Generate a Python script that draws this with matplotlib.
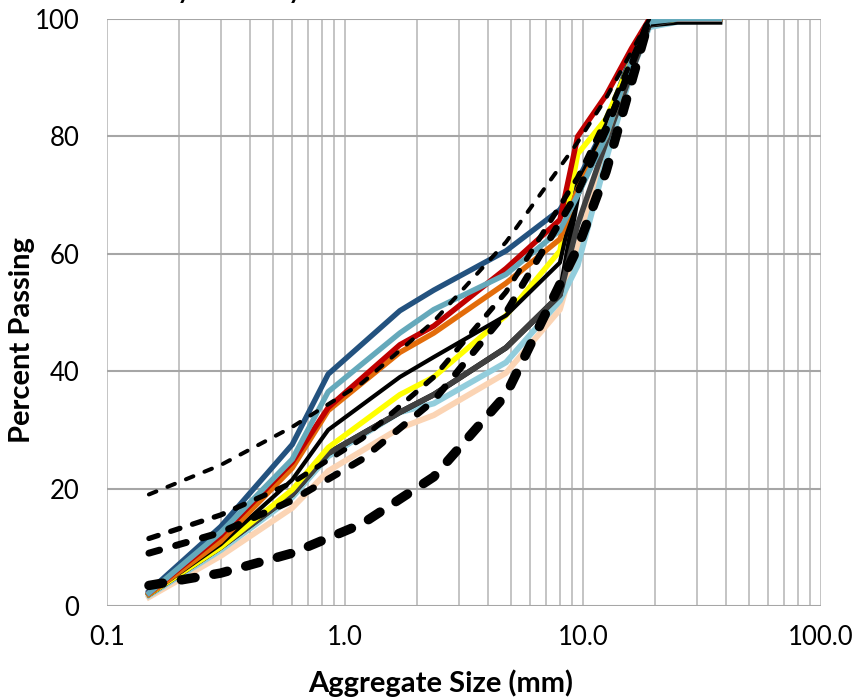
import matplotlib
matplotlib.use("Agg")
from matplotlib import pyplot as plt
from matplotlib.ticker import LogLocator, FixedLocator, FixedFormatter, NullFormatter

plt.rcParams['font.family'] = ['Lato', 'DejaVu Sans']
plt.rcParams['lines.scale_dashes'] = False

# sieve sizes (mm) for the measured gradations
sieves = [0.15, 0.3, 0.6, 0.85, 1.7, 2.36, 4.75, 8.0, 9.5, 12.5, 16.0, 19.0, 25.0, 37.5]

# percent passing, one list per sample
navy = [2.5, 13.5, 27.5, 39.5, 50.3, 53.8, 60.5, 67.5, 72.5, 82.0, 94.0, 99.5, 100, 100]
teal = [2.2, 12.5, 25.0, 36.5, 46.5, 50.5, 56.5, 64.0, 70.0, 80.0, 93.0, 99.5, 100, 100]
red = [2.2, 12.0, 24.5, 33.8, 44.5, 47.7, 57.5, 65.8, 80.0, 87.0, 95.0, 100, 100, 100]
orange = [2.0, 11.0, 23.5, 33.3, 43.2, 46.5, 55.0, 62.5, 71.0, 80.0, 93.0, 100, 100, 100]
black = [2.0, 10.5, 21.5, 30.0, 39.0, 42.4, 49.5, 58.5, 72.0, 82.0, 92.0, 99.0, 100, 100]
yellow = [2.0, 10.0, 19.8, 27.0, 36.0, 39.0, 49.5, 60.5, 77.0, 83.0, 93.0, 99.5, 100, 100]
darkgrey = [2.0, 10.0, 19.0, 26.0, 33.0, 36.0, 44.0, 53.0, 65.0, 79.0, 91.0, 99.0, 100, 100]
black_thick = [2.0, 10.0, 19.0, 26.0, 33.0, 36.0, 44.0, 53.0, 70.0, 81.0, 92.0, 99.0, 99.5, 99.5]
lightblue = [1.8, 9.5, 18.5, 25.5, 33.0, 34.5, 41.5, 52.0, 58.0, 76.0, 91.0, 98.6, 99.5, 99.7]
peach = [1.5, 8.5, 16.7, 23.0, 30.3, 32.5, 39.7, 50.5, 61.0, 78.0, 92.5, 99.0, 100, 100]

# reference / limit curves
ref_sieves = [0.15, 0.3, 0.6, 1.18, 2.36, 4.75, 9.5, 12.5, 19.0]
ref_thin = [19.0, 24.0, 30.5, 38.0, 48.5, 62.0, 79.0, 86.5, 100]
ref_med = [11.5, 15.5, 21.0, 28.5, 39.0, 53.5, 73.0, 83.0, 100]
ref_thick = [9.0, 12.5, 18.0, 25.0, 35.0, 50.0, 70.5, 81.0, 100]
ref_heavy = [3.5, 5.6, 9.0, 14.0, 22.0, 36.0, 61.0, 74.0, 100]

fig = plt.figure(figsize=(8.54, 6.98), dpi=100)
ax = fig.add_axes([0.1253, 0.1318, 0.836, 0.841])

ax.set_xscale('log')
ax.set_xlim(0.1, 100)
ax.set_ylim(0, 100)

solid = [
    (navy, '#23527F', 3.9),
    (peach, '#FBD4B4', 4.2),
    (lightblue, '#92CDDC', 4.2),
    (black_thick, '#000000', 4.0),
    (darkgrey, '#404040', 4.0),
    (yellow, '#FFFF00', 3.9),
    (black, '#000000', 3.0),
    (orange, '#E36C0A', 3.9),
    (red, '#C00000', 3.9),
    (teal, '#65A9BB', 3.9),
]
for vals, col, lw in solid:
    ax.plot(sieves, vals, color=col, lw=lw, solid_joinstyle='round', zorder=3)

dashed = [
    (ref_thin, 2.9, (5.8, 8.6)),
    (ref_med, 3.8, (7.0, 9.5)),
    (ref_thick, 5.0, (8.0, 12.0)),
    (ref_heavy, 6.8, (10.0, 13.7)),
]
for vals, lw, pat in dashed:
    ax.plot(ref_sieves, vals, color='black', lw=lw, dashes=pat,
            dash_capstyle='round', zorder=4)

ax.xaxis.set_major_locator(FixedLocator([0.1, 1, 10, 100]))
ax.xaxis.set_major_formatter(FixedFormatter(['0.1', '1.0', '10.0', '100.0']))
ax.xaxis.set_minor_locator(LogLocator(base=10, subs=range(2, 10), numticks=20))
ax.xaxis.set_minor_formatter(NullFormatter())
ax.set_yticks([0, 20, 40, 60, 80, 100])

ax.grid(True, which='both', axis='x', color='#BFBFBF', lw=1.3, zorder=0)
ax.grid(True, which='major', axis='y', color='#A6A6A6', lw=1.5, zorder=0)
ax.set_axisbelow(True)
for s in ax.spines.values():
    s.set_visible(False)
ax.tick_params(axis='both', which='both', length=0, labelsize=18.5, colors='#000000')
ax.tick_params(axis='x', pad=14)
ax.tick_params(axis='y', pad=20)

ax.set_xlabel('Aggregate Size (mm)', fontsize=21, fontweight='bold')
ax.set_ylabel('Percent Passing', fontsize=21, fontweight='bold')
ax.xaxis.set_label_coords(0.468, -0.131)
ax.xaxis.label.set_va('center')
ax.yaxis.set_label_coords(-0.119, 0.453)
ax.yaxis.label.set_va('center')

fig.text(0.08, 1.001, 'Laboratory Summary', fontsize=18, fontweight='bold',
         va='baseline', ha='left')

fig.savefig('out.png', dpi=100)
